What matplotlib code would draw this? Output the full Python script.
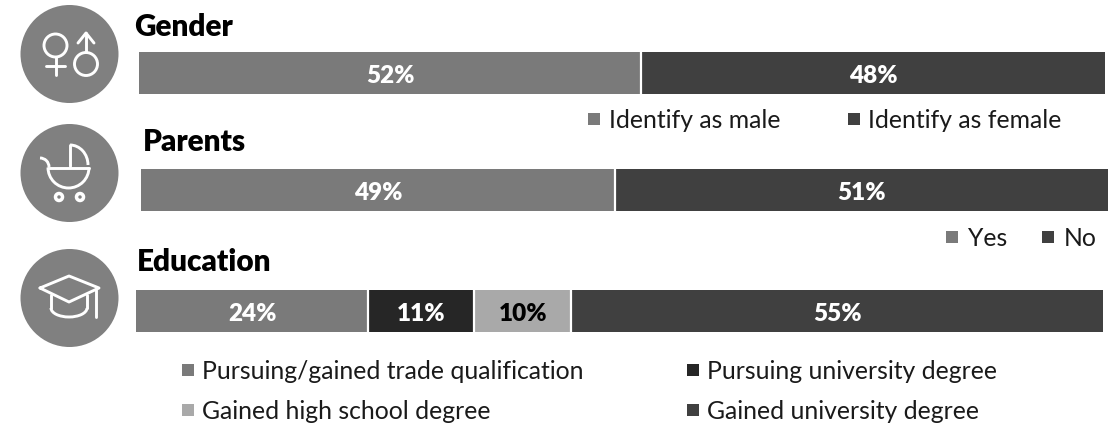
import matplotlib

matplotlib.use("Agg")
import matplotlib.pyplot as plt
from matplotlib.patches import Arc, Circle, Rectangle

WIDTH, HEIGHT = 1114, 427

titles = ["Gender", "Parents", "Education"]
gender_values = [52, 48]
parents_values = [49, 51]
education_values = [24, 11, 10, 55]
gender_labels = ["Identify as male", "Identify as female"]
parents_labels = ["Yes", "No"]
education_labels = [
    "Pursuing/gained trade qualification",
    "Pursuing university degree",
    "Gained high school degree",
    "Gained university degree",
]

MID = "#7a7a7a"
DARK = "#404040"
DARKEST = "#262626"
LIGHT = "#a9a9a9"

plt.rcParams["font.family"] = ["Lato", "DejaVu Sans"]

fig = plt.figure(figsize=(WIDTH / 100, HEIGHT / 100), dpi=100)

# overlay in pixel coordinates for icons, titles and legends
page = fig.add_axes([0, 0, 1, 1])
page.set_xlim(0, WIDTH)
page.set_ylim(HEIGHT, 0)
page.axis("off")


def draw_bar(values, colors, text_colors, left, top, right, bottom):
    axis = fig.add_axes([left / WIDTH, 1 - bottom / HEIGHT, (right - left) / WIDTH, (bottom - top) / HEIGHT])
    start = 0
    for value, color, text_color in zip(values, colors, text_colors):
        axis.barh(0, value, left=start, height=1, color=color, edgecolor="none")
        if start > 0:
            axis.axvline(start, color="white", lw=1.6)
        axis.text(start + value / 2, -0.05, f"{value}%", ha="center", va="center",
                  color=text_color, fontsize=17.5, fontweight="heavy")
        start += value
    axis.set_xlim(0, 100)
    axis.set_ylim(-0.5, 0.5)
    axis.axis("off")


def draw_legend(entries):
    for label, color, marker_x, text_x, y in entries:
        page.add_patch(Rectangle((marker_x, y - 6), 12, 12, color=color, lw=0))
        page.text(text_x, y + 1, label, ha="left", va="center", fontsize=17.8, color="#1a1a1a")


def stroke(xs, ys, lw=2.1):
    page.plot(xs, ys, color="white", lw=lw, solid_capstyle="round", solid_joinstyle="round")


def ring(x, y, r, lw=2.1):
    page.add_patch(Circle((x, y), r, fill=False, edgecolor="white", lw=lw))


def arc(x, y, w, h, t1, t2, lw=2.1):
    # y axis is inverted, so angles run clockwise on screen
    page.add_patch(Arc((x, y), w, h, theta1=t1, theta2=t2, color="white", lw=lw))


for center_y in [55, 174, 299]:
    page.add_patch(Circle((69.5, center_y), 49, color="#808080", lw=0))

# gender icon
ring(55.5, 46.5, 11.5)
stroke([55.5, 55.5], [58, 76])
stroke([46, 65], [67, 67])
ring(86, 65, 11.5)
stroke([86, 86], [53, 34])
stroke([78, 86, 94], [44, 34, 44])

# pram icon
stroke([48, 89], [168.5, 168.5])
arc(68.5, 168.5, 41, 41, 0, 180)
arc(40, 168, 18, 18, 270, 360)
stroke([70, 70], [146, 167])
arc(70, 166, 36, 40, 270, 360)
ring(59, 198, 3.5, 2.5)
ring(80, 198, 3.5, 2.5)

# graduation cap icon
stroke([40, 69, 99, 69, 40], [289, 277, 289, 303, 289])
stroke([51, 51], [296, 309])
stroke([87, 87], [296, 309])
arc(69, 309, 36, 18, 0, 180)
stroke([96, 96], [291, 318])

draw_bar(gender_values, [MID, DARK], ["white", "white"], 139, 52.5, 1105, 94.5)
draw_bar(parents_values, [MID, DARK], ["white", "white"], 141, 169.5, 1108, 211.5)
draw_bar(education_values, [MID, DARKEST, LIGHT, DARK], ["white", "white", "black", "white"], 136, 290.5, 1103, 332.5)

for title, x, y in zip(titles, [134, 143, 137], [27, 142, 262]):
    page.text(x, y, title, ha="left", va="center", fontsize=21.4, fontweight="heavy", color="black")

draw_legend([
    (gender_labels[0], MID, 588, 609, 120),
    (gender_labels[1], DARK, 848, 868, 120),
    (parents_labels[0], MID, 946, 968, 238),
    (parents_labels[1], DARK, 1042, 1064, 238),
    (education_labels[0], MID, 182, 202, 371),
    (education_labels[1], DARKEST, 687, 707, 371),
    (education_labels[2], LIGHT, 182, 202, 411),
    (education_labels[3], DARK, 687, 707, 411),
])

fig.savefig("out.png", dpi=100)
plt.close(fig)
